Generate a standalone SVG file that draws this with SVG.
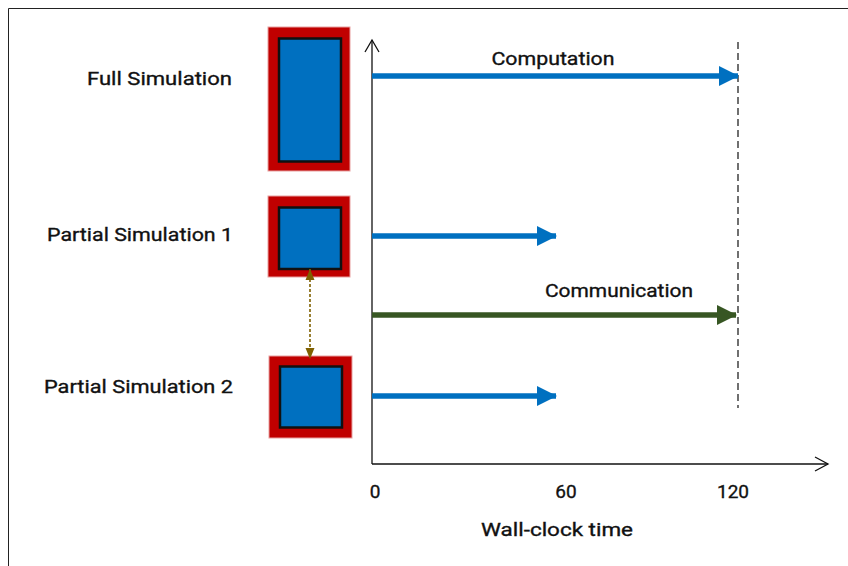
<svg xmlns="http://www.w3.org/2000/svg" width="848" height="566" viewBox="0 0 848 566">
  <style>
    text { font-family: "Roboto", "Liberation Sans", sans-serif; font-size: 19px; fill: #111; stroke: #111; stroke-width: 0.35; }
    .lbl { text-anchor: end; }
    .mid { text-anchor: middle; }
    .outer { fill: #c00000; stroke: #e8a0a0; stroke-width: 1; }
    .inner { fill: #0070c0; stroke: #111; stroke-width: 2.5; }
    .axis { fill: none; stroke: #111; stroke-width: 1.3; }
    .blue { stroke: #0070c0; stroke-width: 5.5; fill: none; }
    .green { stroke: #375623; stroke-width: 5.5; fill: none; }
  </style>
  <defs>
    <marker id="headBlue" viewBox="0 0 20 22" refX="19" refY="11" markerWidth="20" markerHeight="22" orient="auto" markerUnits="userSpaceOnUse">
      <path d="M0,1 L20,11 L0,21 z" fill="#0070c0"/>
    </marker>
    <marker id="headGreen" viewBox="0 0 20 22" refX="19" refY="11" markerWidth="20" markerHeight="22" orient="auto" markerUnits="userSpaceOnUse">
      <path d="M0,1 L20,11 L0,21 z" fill="#375623"/>
    </marker>
    <marker id="headOlive" viewBox="0 0 11 11" refX="11" refY="5.5" markerWidth="11" markerHeight="11" orient="auto-start-reverse" markerUnits="userSpaceOnUse">
      <path d="M0,1 L11,5.5 L0,10 z" fill="#7f6000"/>
    </marker>
  </defs>

  <rect width="848" height="566" fill="#fff"/>
  <!-- frame -->
  <path d="M8.5,566 V8.5 H848" fill="none" stroke="#222" stroke-width="1"/>

  <!-- simulation nodes -->
  <g id="full-sim">
    <rect class="outer" x="268" y="27" width="82" height="144"/>
    <rect class="inner" x="279" y="38.5" width="62" height="123"/>
    <text class="lbl" x="232" y="85" textLength="145" lengthAdjust="spacingAndGlyphs">Full Simulation</text>
  </g>
  <g id="partial-sim-1">
    <rect class="outer" x="268" y="196" width="82" height="81"/>
    <rect class="inner" x="279" y="207.5" width="62" height="61.5"/>
    <text class="lbl" x="233" y="241" textLength="186" lengthAdjust="spacingAndGlyphs">Partial Simulation 1</text>
  </g>
  <g id="partial-sim-2">
    <rect class="outer" x="269" y="356" width="83" height="82"/>
    <rect class="inner" x="280" y="366.5" width="62" height="61"/>
    <text class="lbl" x="233" y="393" textLength="189" lengthAdjust="spacingAndGlyphs">Partial Simulation 2</text>
  </g>

  <!-- axes -->
  <g id="axes">
    <path class="axis" d="M372,464 V40"/>
    <path class="axis" d="M365,52 L372,40 L379,52"/>
    <path class="axis" d="M372,464 H828"/>
    <path class="axis" d="M815,457 L828,464 L815,471"/>
    <text x="375" y="498" class="mid">0</text>
    <text x="566" y="498" class="mid">60</text>
    <text x="733" y="498" class="mid">120</text>
    <text x="557" y="536" class="mid" textLength="152" lengthAdjust="spacingAndGlyphs">Wall-clock time</text>
  </g>

  <!-- connectors -->
  <g id="connectors">
    <path d="M738,42 V408" stroke="#111" stroke-width="1.2" stroke-dasharray="7,4" fill="none"/>
    <path class="blue" d="M372,76 H738" marker-end="url(#headBlue)"/>
    <path class="blue" d="M372,236 H556" marker-end="url(#headBlue)"/>
    <path class="green" d="M372,315 H736" marker-end="url(#headGreen)"/>
    <path class="blue" d="M372,396 H556" marker-end="url(#headBlue)"/>
    <path d="M310,269 V359" stroke="#7f6000" stroke-width="1.6" stroke-dasharray="3,2" fill="none" marker-start="url(#headOlive)" marker-end="url(#headOlive)"/>
  </g>

  <text x="553" y="65" class="mid" textLength="123" lengthAdjust="spacingAndGlyphs">Computation</text>
  <text x="619" y="297" class="mid" textLength="148" lengthAdjust="spacingAndGlyphs">Communication</text>
</svg>
